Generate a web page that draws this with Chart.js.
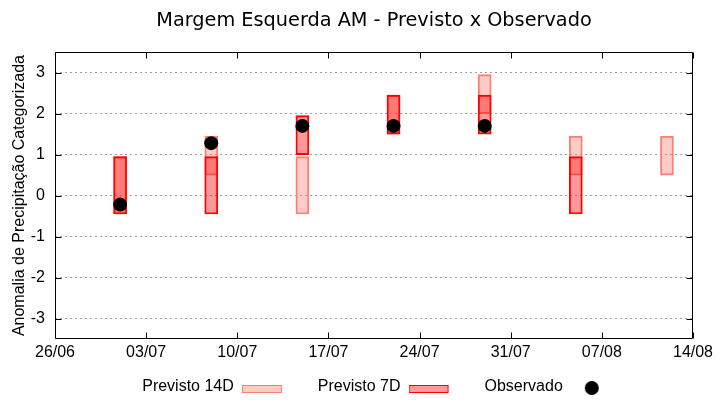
<!DOCTYPE html>
<html>
<head>
<meta charset="utf-8">
<script src="https://cdn.jsdelivr.net/npm/chart.js@4.4.1/dist/chart.umd.min.js"></script>
<style>
  body { margin: 0; background: #fff; }
  #box { width: 720px; height: 400px; }
</style>
</head>
<body>
<div id="box"><canvas id="grafico"></canvas></div>
<script>
const dias = ['01/07', '08/07', '15/07', '22/07', '29/07', '05/08', '12/08'];
const previsto14Min = [-0.45, 0.5, -0.45, 1.5, 2.0, 0.5, 0.5];
const previsto14Max = [0.95, 1.45, 0.95, 2.45, 2.95, 1.45, 1.45];
const previsto7Min = [-0.45, -0.45, 1.0, 1.5, 1.5, -0.45, null];
const previsto7Max = [0.95, 0.95, 1.95, 2.45, 2.45, 0.95, null];
const observado = [-0.22, 1.28, 1.7, 1.7, 1.7, null, null];
const eixoX = ['26/06', '03/07', '10/07', '17/07', '24/07', '31/07', '07/08', '14/08'];
const eixoY = [-3, -2, -1, 0, 1, 2, 3];

const cor14 = 'rgba(250, 128, 114, 0.4)';
const borda14 = '#fa8072';
const cor7 = 'rgba(255, 0, 0, 0.4)';
const borda7 = '#ff0000';

// dias desde 26/06
const base = Date.UTC(2023, 5, 26);
function dia(s) {
  const [d, m] = s.split('/').map(Number);
  return Math.round((Date.UTC(2023, m - 1, d) - base) / 86400000);
}

const dados14 = dias.map((d, i) => ({x: dia(d), y: [previsto14Min[i], previsto14Max[i]]}));
const dados7 = dias.map((d, i) => ({x: dia(d), y: [previsto7Min[i], previsto7Max[i]]})).filter(p => p.y[0] !== null);
const dadosObs = dias.map((d, i) => ({x: dia(d), y: observado[i]})).filter(p => p.y !== null);

// amostras da legenda (caixa a direita do texto, como no gnuplot)
function amostraCaixa(fill, stroke) {
  const c = document.createElement('canvas');
  c.width = 69; c.height = 14;
  const g = c.getContext('2d');
  g.fillStyle = fill;
  g.fillRect(0, 5, 40, 8);
  g.strokeStyle = stroke;
  g.lineWidth = 1;
  g.strokeRect(0.5, 5.5, 39, 7);
  return c;
}
function amostraPonto() {
  const c = document.createElement('canvas');
  c.width = 69; c.height = 18;
  const g = c.getContext('2d');
  g.fillStyle = '#000';
  g.beginPath();
  g.arc(21, 10, 7, 0, Math.PI * 2);
  g.fill();
  return c;
}
const amostras = [amostraCaixa(cor14, borda14), amostraCaixa(cor7, borda7), amostraPonto()];

const moldura = {
  id: 'moldura',
  afterLayout(chart) {
    chart.legend.left += 17;
    chart.legend.right += 17;
    chart.legend.top += 2;
    chart.legend.bottom += 2;
  },
  beforeDatasetsDraw(chart) {
    const {ctx, chartArea: a, scales: {x, y}} = chart;
    const l = Math.round(a.left) + 0.5, r = Math.round(a.right) - 0.5;
    const t = Math.round(a.top) + 0.5, b = Math.round(a.bottom) - 0.5;
    ctx.save();
    ctx.strokeStyle = '#000';
    ctx.lineWidth = 1;
    ctx.beginPath();
    y.ticks.forEach(tk => {
      const p = Math.round(y.getPixelForValue(tk.value)) + 0.5;
      ctx.moveTo(l, p); ctx.lineTo(l + 6, p);
      ctx.moveTo(r, p); ctx.lineTo(r - 6, p);
    });
    x.ticks.forEach(tk => {
      const p = Math.round(x.getPixelForValue(tk.value)) + 0.5;
      ctx.moveTo(p, b); ctx.lineTo(p, b - 6);
      ctx.moveTo(p, t); ctx.lineTo(p, t + 6);
    });
    ctx.rect(l, t, r - l, b - t);
    ctx.stroke();
    ctx.restore();
  }
};

Chart.defaults.color = '#000';
Chart.defaults.font.family = "'Liberation Sans', Arial, sans-serif";
Chart.defaults.font.size = 16;

const ctx = document.getElementById('grafico');
new Chart(ctx, {
  type: 'bar',
  data: {
    datasets: [{
      label: 'Previsto 14D',
      data: dados14,
      backgroundColor: cor14,
      borderColor: borda14,
      borderWidth: 1.2,
      borderSkipped: false,
      barThickness: 13,
      grouped: false,
      order: 3
    },
    {
      label: 'Previsto 7D',
      data: dados7,
      backgroundColor: cor7,
      borderColor: borda7,
      borderWidth: 1.2,
      borderSkipped: false,
      barThickness: 13,
      grouped: false,
      order: 2
    },
    {
      type: 'scatter',
      label: 'Observado',
      data: dadosObs,
      backgroundColor: '#000',
      borderWidth: 0,
      pointRadius: 7,
      order: 1
    }]
  },
  plugins: [moldura],
  options: {
    responsive: true,
    maintainAspectRatio: false,
    animation: false,
    layout: { padding: { left: 0, right: 27, top: 0, bottom: 0 } },
    scales: {
      x: {
        type: 'linear',
        offset: false,
        min: dia(eixoX[0]),
        max: dia(eixoX[eixoX.length - 1]),
        grid: { display: false, drawTicks: false },
        border: { display: false },
        ticks: {
          stepSize: 7,
          padding: 4,
          maxRotation: 0,
          callback: v => eixoX[Math.round(v / 7)]
        },
        afterFit: s => { s.height = 31; }
      },
      y: {
        min: -3.5,
        max: 3.5,
        grid: { color: '#a0a0a0', lineWidth: 1, drawTicks: false },
        border: { display: false, dash: [2, 3] },
        ticks: { padding: 10 },
        afterBuildTicks: s => { s.ticks = eixoY.map(v => ({value: v})); },
        title: {
          display: true,
          text: 'Anomalia de Precipitação Categorizada',
          padding: { top: 10, bottom: 0 }
        },
        afterFit: s => { s.width = 55; }
      }
    },
    plugins: {
      title: {
        display: true,
        fullSize: false,
        text: 'Margem Esquerda AM - Previsto x Observado',
        font: { family: "'DejaVu Sans'", size: 19.3, weight: 'normal' },
        padding: { top: 9, bottom: 20 }
      },
      legend: {
        position: 'bottom',
        fullSize: false,
        rtl: true,
        reverse: true,
        textDirection: 'ltr',
        maxHeight: 30,
        labels: {
          usePointStyle: true,
          pointStyleWidth: 69,
          padding: 7,
          generateLabels: chart => chart.data.datasets.map((ds, i) => ({
            text: ds.label,
            pointStyle: amostras[i],
            datasetIndex: i,
            hidden: false,
            lineWidth: 0,
            fillStyle: 'rgba(0,0,0,0)',
            strokeStyle: 'rgba(0,0,0,0)',
            fontColor: '#000'
          }))
        }
      },
      tooltip: { enabled: false }
    }
  }
});
</script>
</body>
</html>
